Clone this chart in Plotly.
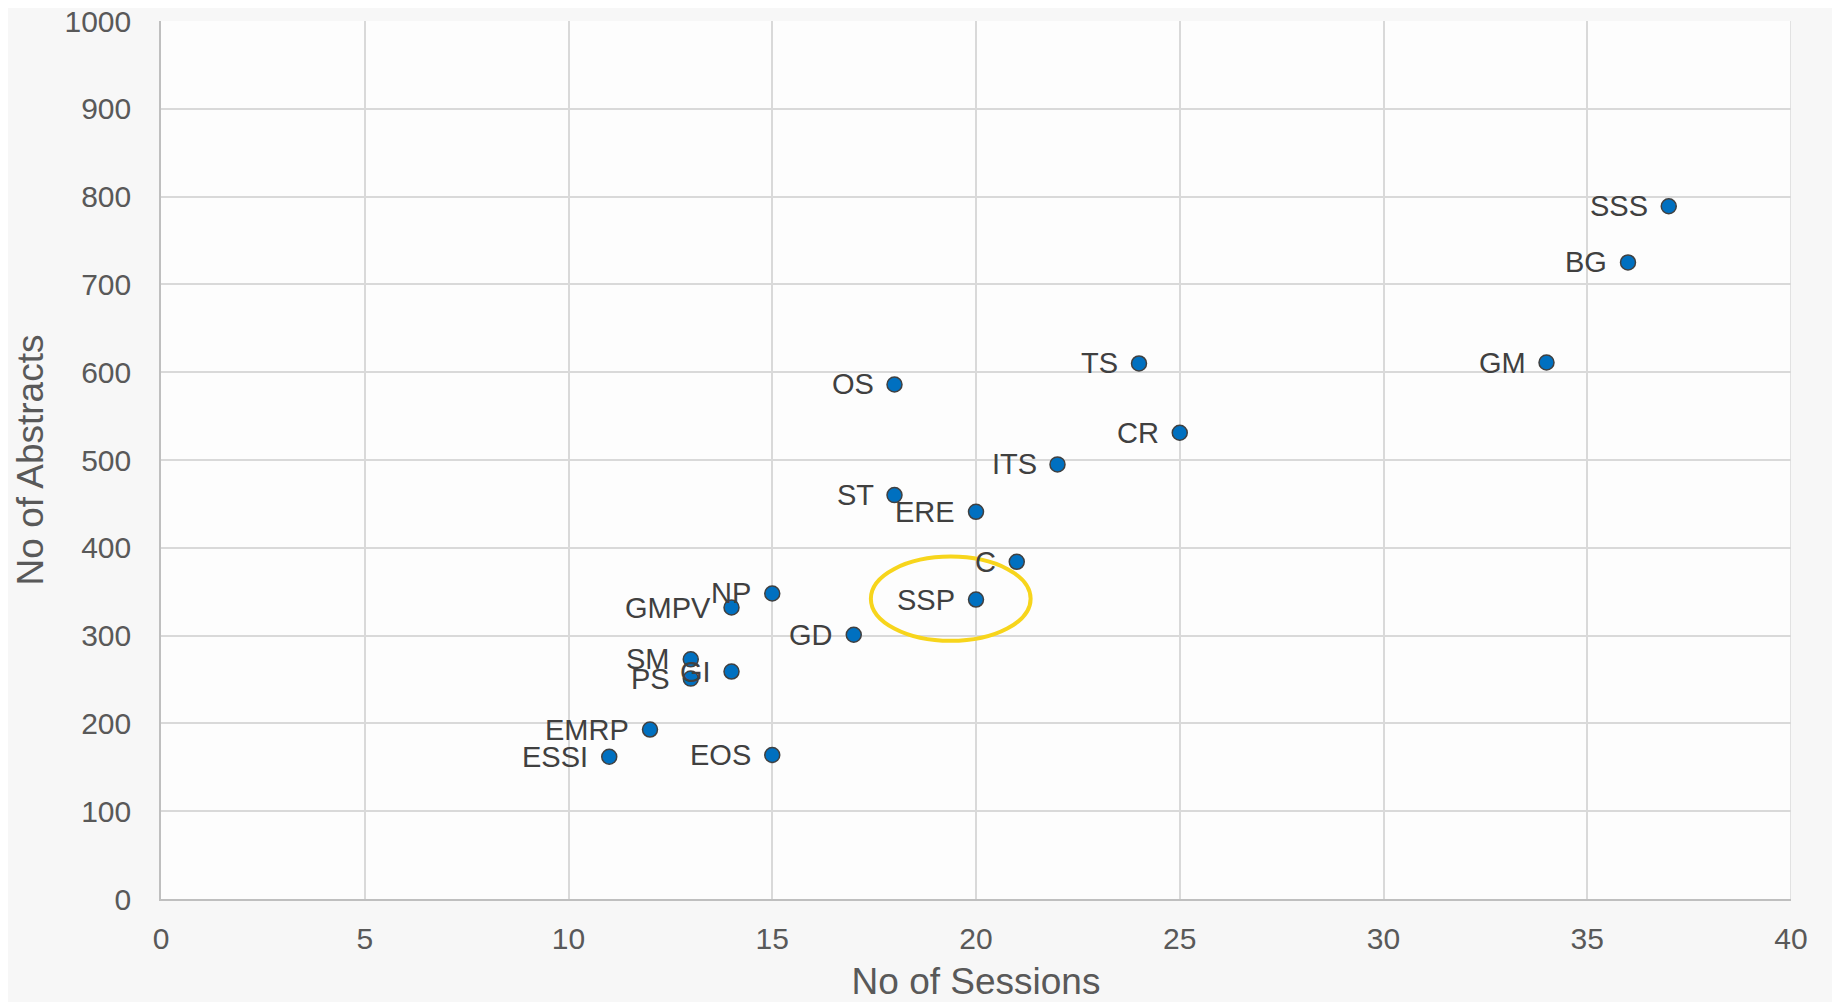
import plotly.graph_objects as go

labels = ["SSS", "BG", "GM", "TS", "OS", "CR", "ITS", "ST", "ERE", "C",
          "NP", "SSP", "GMPV", "GD", "SM", "GI", "PS", "EMRP", "EOS", "ESSI"]
sessions = [37, 36, 34, 24, 18, 25, 22, 18, 20, 21,
            15, 20, 14, 17, 13, 14, 13, 12, 15, 11]
abstracts = [789, 725, 611, 610, 586, 531, 495, 460, 441, 384,
             348, 341, 332, 301, 273, 259, 251, 193, 164, 162]

x_ticks = [0, 5, 10, 15, 20, 25, 30, 35, 40]
y_ticks = [0, 100, 200, 300, 400, 500, 600, 700, 800, 900, 1000]

highlight = "SSP"

FONT = "Liberation Sans, Arial, sans-serif"

fig = go.Figure()
fig.add_trace(go.Scatter(
    x=sessions, y=abstracts, mode="markers",
    marker=dict(size=15, color="#0070C0", line=dict(color="#404040", width=1.5)),
    hoverinfo="skip", showlegend=False,
))

for lab, xv, yv in zip(labels, sessions, abstracts):
    fig.add_annotation(x=xv, y=yv, text=lab, showarrow=False,
                       xanchor="right", yanchor="middle", xshift=-19,
                       font=dict(family=FONT, size=29, color="#404040"))

hi = labels.index(highlight)
hx, hy = sessions[hi], abstracts[hi]
fig.add_shape(type="circle", xref="x", yref="y",
              x0=hx - 2.58, x1=hx + 1.34, y0=hy - 47, y1=hy + 49,
              line=dict(color="#F7D51C", width=4))

fig.update_layout(
    width=1832, height=994,
    margin=dict(l=153, r=49, t=13, b=103),
    paper_bgcolor="#f7f7f7",
    plot_bgcolor="#fdfdfd",
    font=dict(family=FONT, color="#595959"),
)
fig.update_xaxes(
    range=[0, 40], tickvals=x_ticks, ticktext=[str(v) for v in x_ticks],
    showgrid=True, gridcolor="#d9d9d9", gridwidth=1.5,
    showline=True, linecolor="#bfbfbf", linewidth=1.5,
    zeroline=False, mirror=False, automargin=False,
    tickfont=dict(family=FONT, size=30, color="#595959"),
    ticklabelstandoff=12, ticklabeloverflow="allow",
    title=dict(text="No of Sessions", standoff=18,
               font=dict(family=FONT, size=37, color="#595959")),
)
fig.update_yaxes(
    range=[0, 1000], tickvals=y_ticks, ticktext=[str(v) for v in y_ticks],
    showgrid=True, gridcolor="#d9d9d9", gridwidth=1.5,
    showline=True, linecolor="#bfbfbf", linewidth=1.5,
    zeroline=False, automargin=False,
    tickfont=dict(family=FONT, size=30, color="#595959"),
    ticklabelstandoff=22, ticklabeloverflow="allow",
    title=dict(text="No of Abstracts", standoff=10,
               font=dict(family=FONT, size=37, color="#595959")),
)
# right border gridline at x=40
fig.add_shape(type="line", xref="x", yref="paper", x0=40, x1=40, y0=0, y1=1,
              line=dict(color="#d9d9d9", width=1.5), layer="below")

fig.write_html("out.html")
